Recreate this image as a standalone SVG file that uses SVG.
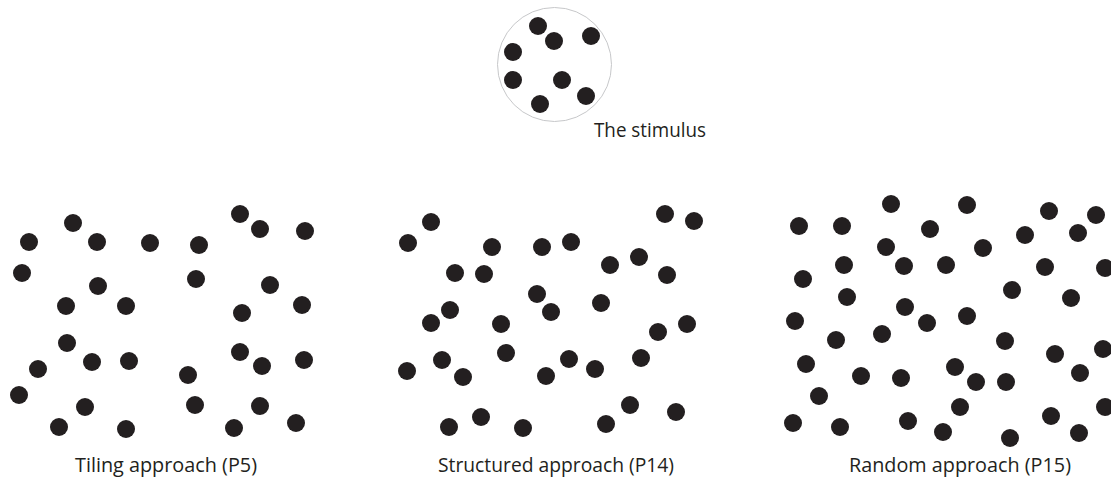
<svg xmlns="http://www.w3.org/2000/svg" width="1111" height="477" viewBox="0 0 1111 477">
  <style>
    .dot { fill: #231f20; }
    .ring { fill: none; stroke: #c7c8ca; stroke-width: 1; }
    .label { font-family: "Open Sans", "Noto Sans", "Liberation Sans", sans-serif; font-size: 20px; fill: #231f20; }
  </style>
  <defs>
    <circle id="d" r="9" class="dot"/>
  </defs>
  <rect width="1111" height="477" fill="#ffffff"/>

  <!-- stimulus: eight dots inside a thin circle -->
  <g id="stimulus">
    <circle class="ring" cx="554.5" cy="64.5" r="57"/>
    <use href="#d" x="538" y="26"/>
    <use href="#d" x="554" y="41"/>
    <use href="#d" x="591" y="36"/>
    <use href="#d" x="513" y="52"/>
    <use href="#d" x="513" y="80"/>
    <use href="#d" x="562" y="80"/>
    <use href="#d" x="586" y="96"/>
    <use href="#d" x="540" y="104"/>
    <text class="label" x="594" y="137" textLength="112" lengthAdjust="spacingAndGlyphs">The stimulus</text>
  </g>

  <!-- tiling approach -->
  <g id="tiling">
    <use href="#d" x="73" y="223"/>
    <use href="#d" x="29" y="242"/>
    <use href="#d" x="97" y="242"/>
    <use href="#d" x="150" y="243"/>
    <use href="#d" x="22" y="273"/>
    <use href="#d" x="98" y="286"/>
    <use href="#d" x="66" y="306"/>
    <use href="#d" x="126" y="306"/>
    <use href="#d" x="67" y="343"/>
    <use href="#d" x="92" y="362"/>
    <use href="#d" x="129" y="361"/>
    <use href="#d" x="38" y="369"/>
    <use href="#d" x="19" y="395"/>
    <use href="#d" x="85" y="407"/>
    <use href="#d" x="59" y="427"/>
    <use href="#d" x="126" y="429"/>
    <use href="#d" x="240" y="214"/>
    <use href="#d" x="260" y="229"/>
    <use href="#d" x="305" y="231"/>
    <use href="#d" x="199" y="245"/>
    <use href="#d" x="196" y="279"/>
    <use href="#d" x="270" y="285"/>
    <use href="#d" x="302" y="305"/>
    <use href="#d" x="242" y="313"/>
    <use href="#d" x="240" y="352"/>
    <use href="#d" x="262" y="366"/>
    <use href="#d" x="304" y="360"/>
    <use href="#d" x="188" y="375"/>
    <use href="#d" x="195" y="405"/>
    <use href="#d" x="260" y="406"/>
    <use href="#d" x="296" y="423"/>
    <use href="#d" x="234" y="428"/>
    <text class="label" x="75" y="472" textLength="182" lengthAdjust="spacingAndGlyphs">Tiling approach (P5)</text>
  </g>

  <!-- structured approach -->
  <g id="structured">
    <use href="#d" x="431" y="222"/>
    <use href="#d" x="408" y="243"/>
    <use href="#d" x="492" y="247"/>
    <use href="#d" x="542" y="247"/>
    <use href="#d" x="571" y="242"/>
    <use href="#d" x="665" y="214"/>
    <use href="#d" x="694" y="221"/>
    <use href="#d" x="455" y="273"/>
    <use href="#d" x="484" y="274"/>
    <use href="#d" x="610" y="265"/>
    <use href="#d" x="639" y="257"/>
    <use href="#d" x="667" y="275"/>
    <use href="#d" x="537" y="294"/>
    <use href="#d" x="551" y="312"/>
    <use href="#d" x="450" y="310"/>
    <use href="#d" x="431" y="323"/>
    <use href="#d" x="501" y="324"/>
    <use href="#d" x="601" y="303"/>
    <use href="#d" x="687" y="324"/>
    <use href="#d" x="658" y="332"/>
    <use href="#d" x="506" y="353"/>
    <use href="#d" x="442" y="360"/>
    <use href="#d" x="407" y="371"/>
    <use href="#d" x="463" y="377"/>
    <use href="#d" x="546" y="376"/>
    <use href="#d" x="569" y="359"/>
    <use href="#d" x="595" y="369"/>
    <use href="#d" x="641" y="358"/>
    <use href="#d" x="481" y="417"/>
    <use href="#d" x="449" y="427"/>
    <use href="#d" x="523" y="428"/>
    <use href="#d" x="606" y="424"/>
    <use href="#d" x="630" y="405"/>
    <use href="#d" x="676" y="412"/>
    <text class="label" x="438" y="472" textLength="236" lengthAdjust="spacingAndGlyphs">Structured approach (P14)</text>
  </g>

  <!-- random approach -->
  <g id="random">
    <use href="#d" x="891" y="204"/>
    <use href="#d" x="967" y="205"/>
    <use href="#d" x="1049" y="211"/>
    <use href="#d" x="1096" y="215"/>
    <use href="#d" x="799" y="226"/>
    <use href="#d" x="842" y="226"/>
    <use href="#d" x="930" y="229"/>
    <use href="#d" x="1025" y="235"/>
    <use href="#d" x="1078" y="233"/>
    <use href="#d" x="886" y="247"/>
    <use href="#d" x="983" y="248"/>
    <use href="#d" x="844" y="265"/>
    <use href="#d" x="904" y="266"/>
    <use href="#d" x="946" y="265"/>
    <use href="#d" x="1045" y="267"/>
    <use href="#d" x="1105" y="268"/>
    <use href="#d" x="803" y="279"/>
    <use href="#d" x="1012" y="290"/>
    <use href="#d" x="1071" y="298"/>
    <use href="#d" x="847" y="297"/>
    <use href="#d" x="905" y="307"/>
    <use href="#d" x="795" y="321"/>
    <use href="#d" x="927" y="323"/>
    <use href="#d" x="967" y="316"/>
    <use href="#d" x="882" y="334"/>
    <use href="#d" x="836" y="340"/>
    <use href="#d" x="1005" y="341"/>
    <use href="#d" x="1055" y="354"/>
    <use href="#d" x="1103" y="349"/>
    <use href="#d" x="806" y="364"/>
    <use href="#d" x="861" y="376"/>
    <use href="#d" x="901" y="378"/>
    <use href="#d" x="955" y="367"/>
    <use href="#d" x="976" y="382"/>
    <use href="#d" x="1006" y="382"/>
    <use href="#d" x="1080" y="373"/>
    <use href="#d" x="819" y="396"/>
    <use href="#d" x="960" y="407"/>
    <use href="#d" x="1051" y="416"/>
    <use href="#d" x="1105" y="407"/>
    <use href="#d" x="793" y="423"/>
    <use href="#d" x="840" y="427"/>
    <use href="#d" x="908" y="421"/>
    <use href="#d" x="943" y="432"/>
    <use href="#d" x="1010" y="438"/>
    <use href="#d" x="1079" y="433"/>
    <text class="label" x="849" y="472" textLength="222" lengthAdjust="spacingAndGlyphs">Random approach (P15)</text>
  </g>
</svg>
